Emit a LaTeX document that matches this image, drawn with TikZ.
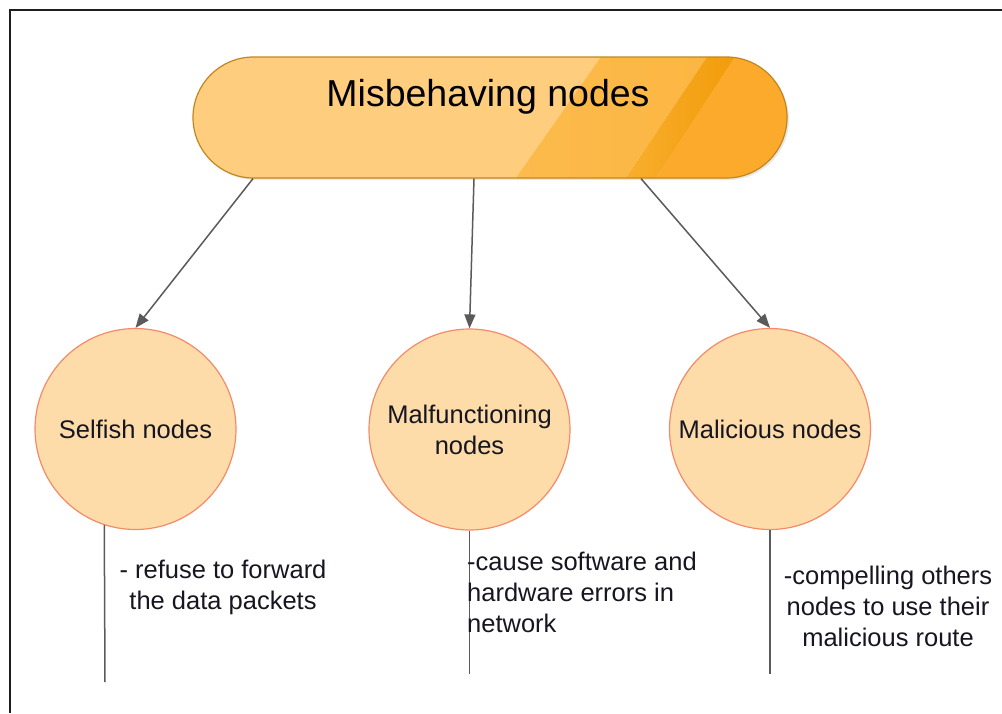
\documentclass[tikz,border=0pt]{standalone}
\usepackage{fontspec}
\setmainfont{Liberation Sans}
\usetikzlibrary{arrows.meta,calc,shadows}

\definecolor{pillA}{HTML}{FECD7E}
\definecolor{pillB1}{HTML}{FDC35E}
\definecolor{pillB2}{HTML}{FCB43E}
\definecolor{pillC1}{HTML}{F8AE2E}
\definecolor{pillC2}{HTML}{F29C0A}
\definecolor{pillD}{HTML}{FBAA2C}
\definecolor{pillEdge}{HTML}{C4861C}
\definecolor{ringFill}{HTML}{FDDCAA}
\definecolor{ringEdge}{HTML}{F58A68}
\definecolor{linkc}{HTML}{5A5A5A}
\definecolor{inkc}{HTML}{161620}
\definecolor{framec}{HTML}{1E1E1E}

\begin{document}
\begin{tikzpicture}[
  x=1pt, y=-1pt,
  pill/.style={draw=pillEdge, line width=1.2pt, rounded corners=60.5pt,
    minimum width=594pt, minimum height=121pt, inner sep=0pt, fill=pillA,
    drop shadow={shadow xshift=2pt, shadow yshift=-2pt, opacity=0.18},
    path picture={
      \fill[sharp corners, left color=pillB1, right color=pillB2]
        ($(path picture bounding box.south west)+(323,0)$) --
        ($(path picture bounding box.north west)+(408,0)$) --
        ($(path picture bounding box.north west)+(514,0)$) --
        ($(path picture bounding box.south west)+(433,0)$) -- cycle;
      \fill[sharp corners, left color=pillC1, right color=pillC2]
        ($(path picture bounding box.south west)+(433,0)$) --
        ($(path picture bounding box.north west)+(514,0)$) --
        ($(path picture bounding box.north west)+(542,0)$) --
        ($(path picture bounding box.south west)+(463,0)$) -- cycle;
      \fill[sharp corners, pillD]
        ($(path picture bounding box.south west)+(463,0)$) --
        ($(path picture bounding box.north west)+(542,0)$) --
        (path picture bounding box.north east) --
        (path picture bounding box.south east) -- cycle;
    }},
  kind/.style={circle, draw=ringEdge, line width=1.2pt, fill=ringFill,
    minimum size=201pt, inner sep=0pt, align=center, text=inkc,
    font=\fontsize{25.5}{31}\selectfont},
  note/.style={inner sep=0pt, text=inkc, font=\fontsize{25.5}{31}\selectfont},
  link/.style={draw=linkc, line width=1.5pt,
    -{Triangle[length=14pt,width=11pt]}},
  lead/.style={draw=linkc, line width=1.5pt}
]
\useasboundingbox (0,0) rectangle (1002,713);

% outer frame (left and top edges)
\draw[framec, line width=2pt] (10.3,713) -- (10.3,10) -- (1002,10);

% root
\node[pill] (top) at (490,117.5) {};
\node[anchor=base, inner sep=0pt, text=black,
      font=\fontsize{37.5}{44}\selectfont] (title) at (488,106.5) {Misbehaving nodes};

% categories
\node[kind] (S) at (135.5,429) {Selfish nodes};
\node[kind] (F) at (469.5,429.5) {Malfunctioning\\nodes};
\node[kind] (C) at (770,429) {Malicious nodes};

% arrows from the root
\draw[link] ([xshift=-237pt]top.south) -- (S.north);
\draw[link] ([xshift=-16pt]top.south) -- (F.north);
\draw[link] ([xshift=151pt]top.south) -- (C.north);

% descriptions
\coordinate (sEnd) at (105,682);
\coordinate (fEnd) at (469.5,674);
\coordinate (cEnd) at (770,674);
\draw[lead] (S.252) -- (sEnd);
\draw[lead] (F.south) -- (fEnd);
\draw[lead] (C.south) -- (cEnd);

\node[note, align=center, anchor=north] (sn) at (223,559.4)
  {- refuse to forward\\the data packets};
\node[note, align=left, anchor=north west] (fn) at (467,551.4)
  {-cause software and\\hardware errors in\\network};
\node[note, align=center, anchor=north] (cn) at (888,565.4)
  {-compelling others\\nodes to use their\\malicious route};
\end{tikzpicture}
\end{document}
